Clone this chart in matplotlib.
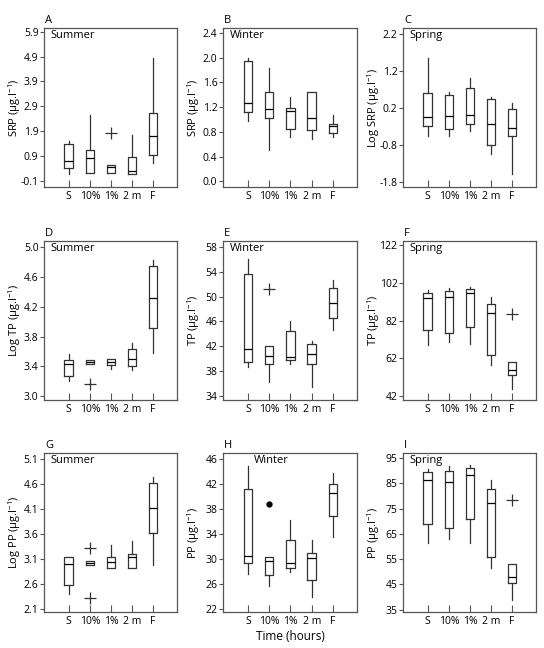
import matplotlib
matplotlib.use("Agg")
import matplotlib.pyplot as plt

plt.rcParams['font.family'] = ['Open Sans', 'DejaVu Sans']
plt.rcParams['mathtext.fontset'] = 'custom'
plt.rcParams['mathtext.rm'] = 'Open Sans'
plt.rcParams['mathtext.it'] = 'Open Sans:italic'

groups = ["S", "10%", "1%", "2 m", "F"]

# each row: whisker low, q1, median, q3, whisker high  (one row per group)
A_srp_summer = [[0.16, 0.39, 0.70, 1.39, 1.49],
                [0.21, 0.21, 0.80, 1.13, 2.53],
                [0.21, 0.21, 0.46, 0.53, 0.53],
                [0.17, 0.17, 0.30, 0.87, 1.73],
                [0.61, 0.95, 1.71, 2.64, 4.83]]
A_out = {2: [1.82]}

B_srp_winter = [[0.97, 1.13, 1.27, 1.94, 2.00],
                [0.51, 1.03, 1.17, 1.44, 1.84],
                [0.72, 0.84, 1.14, 1.18, 1.36],
                [0.68, 0.83, 1.02, 1.45, 1.45],
                [0.72, 0.78, 0.89, 0.93, 1.08]]
B_out = {}

C_logsrp_spring = [[-0.56, -0.30, -0.05, 0.60, 1.55],
                   [-0.56, -0.36, -0.01, 0.56, 0.64],
                   [-0.43, -0.23, 0.00, 0.73, 1.02],
                   [-1.06, -0.81, -0.23, 0.45, 0.50],
                   [-1.60, -0.55, -0.35, 0.17, 0.32]]
C_out = {}

D_logtp_summer = [[3.21, 3.27, 3.43, 3.49, 3.56],
                  [3.43, 3.43, 3.46, 3.49, 3.49],
                  [3.36, 3.42, 3.46, 3.50, 3.50],
                  [3.35, 3.40, 3.50, 3.63, 3.72],
                  [3.58, 3.91, 4.31, 4.74, 4.83]]
D_out = {1: [3.16]}

E_tp_winter = [[38.7, 39.5, 41.5, 53.7, 56.1],
               [36.2, 39.2, 40.5, 42.0, 42.0],
               [39.2, 39.8, 40.3, 44.5, 46.1],
               [35.5, 39.2, 40.7, 42.3, 42.8],
               [44.7, 46.5, 48.9, 51.4, 52.7]]
E_out = {1: [51.3]}

F_tp_spring = [[69.2, 77.0, 93.9, 96.7, 98.3],
               [70.9, 75.7, 94.4, 97.6, 99.4],
               [69.5, 78.4, 96.7, 98.6, 99.7],
               [58.5, 63.6, 85.9, 90.9, 94.8],
               [46.0, 53.3, 56.0, 60.2, 60.2]]
F_out = {4: [85.4]}

G_logpp_summer = [[2.40, 2.58, 3.01, 3.14, 3.14],
                  [2.99, 2.99, 3.02, 3.06, 3.06],
                  [2.93, 2.93, 3.05, 3.15, 3.38],
                  [2.92, 2.92, 3.15, 3.21, 3.47],
                  [2.99, 3.62, 4.11, 4.62, 4.73]]
G_out = {1: [3.33, 2.32]}

H_pp_winter = [[27.6, 29.3, 30.5, 41.2, 44.9],
               [25.7, 27.5, 29.7, 30.4, 30.4],
               [28.0, 28.5, 29.4, 33.1, 36.3],
               [23.9, 26.7, 30.2, 31.0, 33.0],
               [33.5, 36.8, 40.5, 42.0, 43.7]]
H_out = {1: [38.8]}

I_pp_spring = [[61.5, 69.0, 86.4, 89.3, 90.5],
               [62.8, 67.4, 85.5, 89.9, 91.8],
               [61.4, 71.0, 88.1, 91.2, 92.4],
               [51.6, 55.7, 77.3, 82.7, 86.4],
               [39.0, 45.7, 48.1, 52.9, 52.9]]
I_out = {4: [78.2]}

unit = " (µg.l$^{-1}$)"

# letter, season, ylabel, stats, outliers, yticks(lo, hi, step, decimals), ylim, season x, flier marker
panels = [
    ("A", "Summer", "SRP" + unit, A_srp_summer, A_out, (-0.1, 5.9, 1.0, 1), (-0.36, 6.06), 0.05, "+"),
    ("B", "Winter", "SRP" + unit, B_srp_winter, B_out, (0.0, 2.4, 0.4, 1), (-0.09, 2.48), 0.05, "+"),
    ("C", "Spring", "Log SRP" + unit, C_logsrp_spring, C_out, (-1.8, 2.2, 1.0, 1), (-1.94, 2.36), 0.05, "+"),
    ("D", "Summer", "Log TP" + unit, D_logtp_summer, D_out, (3.0, 5.0, 0.4, 1), (2.95, 5.08), 0.05, "+"),
    ("E", "Winter", "TP" + unit, E_tp_winter, E_out, (34, 58, 4, 0), (33.35, 58.97), 0.05, "+"),
    ("F", "Spring", "TP" + unit, F_tp_spring, F_out, (42, 122, 20, 0), (39.9, 124.3), 0.05, "+"),
    ("G", "Summer", "Log PP" + unit, G_logpp_summer, G_out, (2.1, 5.1, 0.5, 1), (2.05, 5.21), 0.05, "+"),
    ("H", "Winter", "PP" + unit, H_pp_winter, H_out, (22, 46, 4, 0), (21.57, 46.9), 0.23, "o"),
    ("I", "Spring", "PP" + unit, I_pp_spring, I_out, (35, 95, 10, 0), (34.1, 96.98), 0.05, "+"),
]

W, H = 544, 648
fig = plt.figure(figsize=(W / 100, H / 100), dpi=100)

col_x = [(44, 177), (223, 357), (403, 536)]
row_y = [(28, 187), (241, 400), (453, 612)]
line_c = "#333333"
frame_c = "#555555"

for i, (letter, season, ylab, stats, outl, tk, ylim, sx, mk) in enumerate(panels):
    x0, x1 = col_x[i % 3]
    y0, y1 = row_y[i // 3]
    ax = fig.add_axes([x0 / W, 1 - y1 / H, (x1 - x0) / W, (y1 - y0) / H])

    bx = []
    for j, s in enumerate(stats):
        bx.append(dict(whislo=s[0], q1=s[1], med=s[2], q3=s[3], whishi=s[4],
                       fliers=outl.get(j, []), label=groups[j]))
    if mk == "o":
        fp = dict(marker="o", markersize=3.5, markerfacecolor="black",
                  markeredgecolor="black", linestyle="none")
    else:
        fp = dict(marker="+", markersize=9, markeredgewidth=0.9,
                  markeredgecolor=line_c, linestyle="none")
    ax.bxp(bx, positions=range(1, 6), widths=0.4, showcaps=False,
           boxprops=dict(color=line_c, linewidth=0.9),
           whiskerprops=dict(color=line_c, linewidth=0.9),
           medianprops=dict(color="black", linewidth=0.9),
           flierprops=fp)

    lo, hi, step, dec = tk
    n = int(round((hi - lo) / step))
    ticks = [lo + k * step for k in range(n + 1)]
    ax.set_yticks(ticks)
    fmt = "%." + str(dec) + "f"
    ax.set_yticklabels([fmt % t for t in ticks])
    ax.set_ylim(ylim)
    ax.set_xlim(-0.17, 6.13)
    ax.set_xticks(range(1, 6))
    ax.set_xticklabels(groups)

    ax.tick_params(axis="y", direction="out", length=3, width=0.8, color=frame_c,
                   labelsize=7.5, pad=1)
    ax.tick_params(axis="x", direction="in", length=5, width=0.8, color=frame_c,
                   labelsize=7.5, pad=3)
    for sp in ax.spines.values():
        sp.set_color(frame_c)
        sp.set_linewidth(0.9)

    ax.set_ylabel(ylab, fontsize=8)
    ax.yaxis.set_label_coords(-0.16, 0.5)
    ax.text(sx, 0.95, season, transform=ax.transAxes, fontsize=8, va="center", ha="left")
    ax.text(0.01, 1.015, letter, transform=ax.transAxes, fontsize=8, va="bottom", ha="left")

fig.text(290 / W, 1 - 637 / H, "Time (hours)", fontsize=8.5, ha="center", va="center")

fig.savefig("out.png", dpi=100)
